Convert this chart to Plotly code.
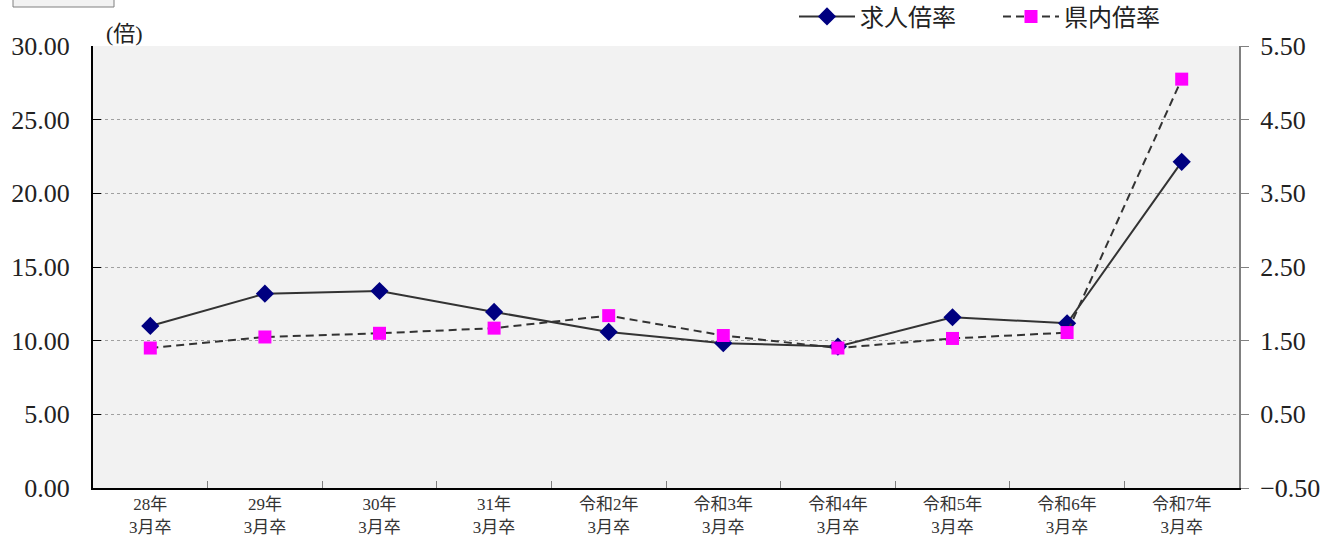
import plotly.graph_objects as go

categories = ["28年<br>3月卒", "29年<br>3月卒", "30年<br>3月卒", "31年<br>3月卒",
              "令和2年<br>3月卒", "令和3年<br>3月卒", "令和4年<br>3月卒",
              "令和5年<br>3月卒", "令和6年<br>3月卒", "令和7年<br>3月卒"]
kyujin_bairitsu = [11.00, 13.19, 13.37, 11.95, 10.59, 9.83, 9.60, 11.59, 11.18, 22.14]
kennai_bairitsu = [1.40, 1.55, 1.60, 1.67, 1.84, 1.57, 1.40, 1.53, 1.61, 5.05]
left_ticks = [0, 5, 10, 15, 20, 25, 30]
right_ticks = [-0.5, 0.5, 1.5, 2.5, 3.5, 4.5, 5.5]

FONT = "Liberation Serif, Noto Sans CJK JP, serif"

fig = go.Figure()
fig.add_trace(go.Scatter(
    x=categories, y=kyujin_bairitsu, name="求人倍率", mode="lines+markers",
    line=dict(color="#333333", width=2),
    marker=dict(symbol="diamond", size=14, color="#000080"),
    yaxis="y",
))
fig.add_trace(go.Scatter(
    x=categories, y=kennai_bairitsu, name="県内倍率", mode="lines+markers",
    line=dict(color="#333333", width=2, dash="8px,5px"),
    marker=dict(symbol="square", size=13, color="#ff00ff"),
    yaxis="y2",
))

fig.update_layout(
    width=1338, height=544,
    margin=dict(l=93, r=99, t=46, b=56, autoexpand=False),
    paper_bgcolor="white", plot_bgcolor="#f2f2f2",
    font=dict(family=FONT, color="#222222"),
    showlegend=True,
    legend=dict(orientation="h", x=(794 - 93) / 1146, xanchor="left", y=1.066, yanchor="middle",
                font=dict(size=24, family=FONT, color="#222222"),
                itemwidth=56, entrywidth=133, entrywidthmode="pixels",
                bgcolor="rgba(0,0,0,0)", tracegroupgap=0),
    xaxis=dict(
        type="category", tickson="boundaries", ticks="inside", ticklen=7,
        tickcolor="#808080", showline=True, linecolor="black", linewidth=2,
        showgrid=False, tickfont=dict(size=17, family=FONT, color="#333333"),
        range=[-0.5, 9.5], mirror=False,
    ),
    yaxis=dict(
        range=[0, 30], tickvals=left_ticks, tickformat=".2f",
        ticks="inside", ticklen=8, tickcolor="black",
        showline=True, linecolor="black", linewidth=2,
        showgrid=True, gridcolor="#a0a0a0", griddash="dot", gridwidth=1,
        zeroline=False, tickfont=dict(size=26, family=FONT, color="#222222"),
        ticklabelstandoff=16,
    ),
    yaxis2=dict(
        range=[-0.5, 5.5], tickvals=right_ticks, tickformat=".2f",
        overlaying="y", side="right",
        ticks="outside", ticklen=8, tickcolor="#808080",
        showline=True, linecolor="#808080", linewidth=2,
        showgrid=False, zeroline=False,
        tickfont=dict(size=26, family=FONT, color="#222222"),
        ticklabelstandoff=6,
    ),
    annotations=[dict(
        text="(倍)", xref="paper", yref="paper", x=(104 - 93) / 1146, y=1 + (46 - 33) / 442,
        xanchor="left", yanchor="middle", showarrow=False,
        font=dict(size=22, family=FONT, color="#222222"),
    )],
    shapes=[dict(
        type="rect", xref="paper", yref="paper",
        x0=(13 - 93) / 1146, x1=(114 - 93) / 1146,
        y0=1 + (46 - 7) / 442, y1=1 + (46 + 2) / 442,
        line=dict(color="#808080", width=1), fillcolor="#f2f2f2", layer="above",
    )],
)

fig.write_html("out.html", config={"displayModeBar": False},
               post_script="document.body.style.margin='0';")
